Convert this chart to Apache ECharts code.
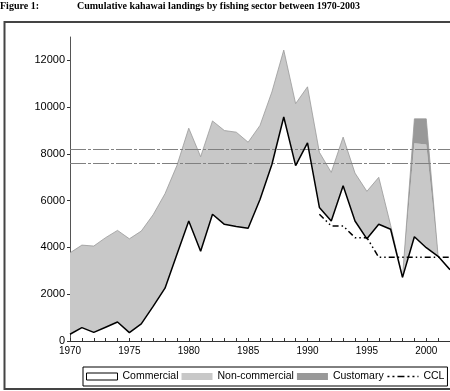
<!DOCTYPE html>
<html>
<head>
<meta charset="utf-8">
<script src="https://cdn.jsdelivr.net/npm/echarts@6/dist/echarts.min.js"></script>
<style>
html,body{margin:0;padding:0;background:#fff;}
#chart{width:450px;height:391px;}
</style>
</head>
<body>
<div id="chart"></div>
<script>
// ---- data ----
var years = [1970,1971,1972,1973,1974,1975,1976,1977,1978,1979,1980,1981,1982,1983,1984,1985,1986,1987,1988,1989,1990,1991,1992,1993,1994,1995,1996,1997,1998,1999,2000,2001,2002];
var commercial = [290,570,370,590,810,360,730,1480,2260,3700,5130,3840,5420,4990,4900,4820,6050,7550,9580,7500,8470,5710,5130,6640,5130,4370,4990,4780,2720,4460,3990,3620,3050];
var nonCommercial = [3480,3530,3690,3830,3920,4010,3970,3920,4040,3800,3970,4040,3990,4010,4030,3680,3170,3100,2860,2650,2400,2360,2080,2080,2050,2030,2010,170,0,4000,4410,0,0];
var customary = [0,0,0,0,0,0,0,0,0,0,0,0,0,0,0,0,0,0,0,0,0,0,0,0,0,0,0,0,0,1040,1100,0,0];
var cclYears = [1991,1992,1993,1994,1995,1996,1997,1998,1999,2000,2001,2002];
var cclValues = [5420,4920,4920,4420,4420,3580,3580,3580,3580,3580,3580,3580];
var refLines = [8200,7600];
var titleLabel = 'Figure 1:';
var titleText = 'Cumulative kahawai landings by fishing sector between 1970-2003';

var cclSeries = years.map(function(y){
  var i = cclYears.indexOf(y);
  return i >= 0 ? cclValues[i] : null;
});

var font = '"Liberation Sans", Arial, sans-serif';
var chart = echarts.init(document.getElementById('chart'), null, {renderer:'canvas'});
chart.setOption({
  animation:false,
  backgroundColor:'#fff',
  graphic:[
    {type:'text', left:0, top:1, style:{text:titleLabel, font:'bold 10px "Liberation Serif", serif', fill:'#000'}},
    {type:'text', left:77, top:1, style:{text:titleText, font:'bold 10px "Liberation Serif", serif', fill:'#000'}},
    {type:'rect', shape:{x:4.5, y:22, width:460, height:367}, style:{fill:'none', stroke:'#444', lineWidth:2}, z:-1}
  ],
  grid:{left:70, top:37, right:0, bottom:50},
  legend:{
    left:83, top:367, width:364,
    padding:[4,3,4,3],
    itemGap:3,
    borderColor:'#000', borderWidth:1,
    itemWidth:31, itemHeight:7,
    textStyle:{fontFamily:font, fontSize:10.5, color:'#000'},
    data:[
      {name:'Commercial', icon:'rect', itemStyle:{color:'#fff', borderColor:'#000', borderWidth:1}},
      {name:'Non-commercial', icon:'rect', itemStyle:{color:'#c8c8c8'}},
      {name:'Customary', icon:'rect', itemStyle:{color:'#999'}},
      {name:'CCL', itemStyle:{opacity:0}, lineStyle:{color:'#000', width:1.5, type:[2,3,2,3,7,3,2,3]}}
    ]
  },
  xAxis:{
    type:'category', data:years, boundaryGap:false,
    axisLine:{show:true, lineStyle:{color:'#333', width:1}},
    axisTick:{show:true, inside:true, length:3, interval:0, lineStyle:{color:'#333'}},
    axisLabel:{color:'#000', fontSize:10, fontFamily:font, margin:5,
      interval:function(idx, v){ return (+v) % 5 === 0; }},
    splitLine:{show:false}
  },
  yAxis:{
    type:'value', min:0, max:13000, interval:2000,
    axisLine:{show:true, lineStyle:{color:'#555', width:1}},
    axisTick:{show:true, length:3, lineStyle:{color:'#333'}},
    axisLabel:{color:'#000', fontSize:11, fontFamily:font, margin:5, showMaxLabel:false,
      formatter:function(v){ return String(v); }},
    splitLine:{show:false}
  },
  series:[
    {
      name:'Commercial', type:'line', stack:'total', data:commercial,
      symbol:'none', z:5,
      lineStyle:{color:'#000', width:1.5},
      itemStyle:{color:'#fff', borderColor:'#000'}
    },
    {
      name:'Non-commercial', type:'line', stack:'total', data:nonCommercial,
      symbol:'none', z:2,
      lineStyle:{width:0},
      itemStyle:{color:'#c8c8c8'},
      areaStyle:{color:'#c8c8c8', opacity:1}
    },
    {
      name:'Customary', type:'line', stack:'total', data:customary,
      symbol:'none', z:2,
      lineStyle:{width:0.8, color:'#999'},
      itemStyle:{color:'#999'},
      areaStyle:{color:'#999', opacity:1},
      markLine:{
        silent:true, symbol:'none', label:{show:false},
        lineStyle:{color:'#808080', width:1, type:[16,2,3,2]},
        data: refLines.map(function(v){ return {yAxis:v}; })
      }
    },
    {
      name:'CCL', type:'line', data:cclSeries,
      symbol:'none', z:4,
      lineStyle:{color:'#000', width:1.5, type:[6,3,1.5,3,1.5,3]},
      itemStyle:{color:'#000'}
    }
  ]
});
</script>
</body>
</html>
